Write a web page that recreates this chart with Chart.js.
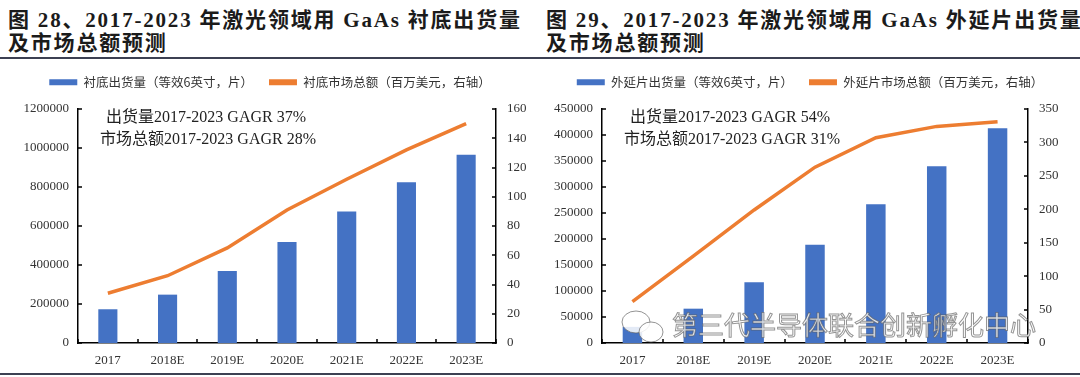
<!DOCTYPE html>
<html>
<head>
<meta charset="utf-8">
<script src="https://cdn.jsdelivr.net/npm/chart.js@4"></script>
<style>
  body { margin: 0; background: #fff; }
  #page { position: relative; width: 1080px; height: 377px; overflow: hidden; background: #fff; }
  .title { position: absolute; top: 9px; font-family: "Liberation Serif", "Noto Sans CJK SC"; font-weight: bold;
           font-size: 21px; line-height: 23px; letter-spacing: 1.8px; color: #1b1b1b; white-space: nowrap; }
  .rule { position: absolute; left: 0; width: 1080px; height: 2px; background: #3c4052; }
  .box { position: absolute; top: 60px; width: 540px; height: 312px; }
</style>
</head>
<body>
<div id="page">
  <div class="title" style="left:8px">图 28、2017-2023 年激光领域用 GaAs 衬底出货量<br>及市场总额预测</div>
  <div class="title" style="left:546px">图 29、2017-2023 年激光领域用 GaAs 外延片出货量<br>及市场总额预测</div>
  <div class="rule" style="top:57px"></div>
  <div class="rule" style="top:373px"></div>
  <div class="box" style="left:0"><canvas id="c1" width="540" height="312"></canvas></div>
  <div class="box" style="left:540px"><canvas id="c2" width="540" height="312"></canvas></div>
</div>
<script>
// 数据
var years = ['2017', '2018E', '2019E', '2020E', '2021E', '2022E', '2023E'];

var substrateLabels = ['衬底出货量（等效6英寸，片）', '衬底市场总额（百万美元，右轴）'];
var substrateVolume = [173000, 248000, 369000, 518000, 675000, 824000, 965000];
var substrateMarket = [34, 46, 65, 91, 112, 132, 150];
var substrateNotes = ['出货量2017-2023 GAGR 37%', '市场总额2017-2023 GAGR 28%'];
var substrateLeftTicks = [0, 1200000, 200000];
var substrateRightTicks = [0, 160, 20];

var epiLabels = ['外延片出货量（等效6英寸，片）', '外延片市场总额（百万美元，右轴）'];
var epiVolume = [31000, 66000, 117000, 189000, 267000, 340000, 413000];
var epiMarket = [62, 130, 199, 263, 307, 324, 331];
var epiNotes = ['出货量2017-2023 GAGR 54%', '市场总额2017-2023 GAGR 31%'];
var epiLeftTicks = [0, 450000, 50000];
var epiRightTicks = [0, 350, 50];

var watermark = '第三代半导体联合创新孵化中心';

var BLUE = '#4472C4';
var ORANGE = '#ED7D31';
var SERIF = '"Liberation Serif", "Noto Sans CJK SC"';

// 刻度线朝内
var insideTicks = {
    id: 'insideTicks',
    afterDatasetsDraw: function (chart) {
        var ctx = chart.ctx, a = chart.chartArea;
        var x = chart.scales.x, y = chart.scales.y, y1 = chart.scales.y1;
        ctx.save();
        ctx.strokeStyle = '#000';
        ctx.lineWidth = 1.5;
        ctx.beginPath();
        y.ticks.forEach(function (t, i) {
            var p = Math.round(y.getPixelForTick(i));
            ctx.moveTo(a.left, p); ctx.lineTo(a.left + 4, p);
        });
        y1.ticks.forEach(function (t, i) {
            var p = Math.round(y1.getPixelForTick(i));
            ctx.moveTo(a.right, p); ctx.lineTo(a.right - 4, p);
        });
        for (var i = 0; i <= years.length; i++) {
            var px = Math.round(x.getPixelForValue(i - 0.5));
            ctx.moveTo(px, a.bottom); ctx.lineTo(px, a.bottom - 4);
        }
        ctx.stroke();
        ctx.restore();
    }
};

// 图内说明文字
var notes = {
    id: 'notes',
    afterDraw: function (chart, args, opts) {
        var ctx = chart.ctx, a = chart.chartArea;
        ctx.save();
        ctx.font = '16px ' + SERIF;
        ctx.fillStyle = '#222';
        ctx.textAlign = 'center';
        ctx.textBaseline = 'middle';
        ctx.fillText(opts.lines[0], a.left + 128, a.top + 9);
        ctx.fillText(opts.lines[1], a.left + 130, a.top + 31);
        if (opts.mark) {
            // 水印
            ctx.font = '26px "Noto Sans CJK SC"';
            ctx.lineWidth = 1;
            ctx.strokeStyle = 'rgba(90,90,90,0.65)';
            ctx.fillStyle = 'rgba(255,255,255,0.85)';
            ctx.fillText(opts.mark, 314, 265);
            ctx.strokeText(opts.mark, 314, 265);
            ctx.beginPath();
            ctx.ellipse(96, 262, 14, 11, 0, 0, Math.PI * 2);
            ctx.fill(); ctx.stroke();
            ctx.beginPath();
            ctx.ellipse(111, 272, 12, 10, 0, 0, Math.PI * 2);
            ctx.fill(); ctx.stroke();
        }
        ctx.restore();
    }
};

// 固定图例高度
var legendHeight = {
    id: 'legendHeight',
    beforeInit: function (chart) {
        var fit = chart.legend.fit;
        chart.legend.fit = function () {
            fit.bind(chart.legend)();
            this.height = 49;
        };
    }
};

function plain(v) { return String(v); }

function makeChart(id, labels, volume, market, leftTicks, rightTicks, noteLines, leftW, rightW, mark) {
    var ctx = document.getElementById(id).getContext('2d');
    return new Chart(ctx, {
        type: 'bar',
        data: {
            labels: years,
            datasets: [{
                label: labels[0],
                data: volume,
                backgroundColor: BLUE,
                barPercentage: 0.32,
                categoryPercentage: 1,
                yAxisID: 'y'
            }, {
                type: 'line',
                label: labels[1],
                data: market,
                borderColor: ORANGE,
                backgroundColor: ORANGE,
                borderWidth: 3.5,
                pointRadius: 0,
                tension: 0,
                yAxisID: 'y1'
            }]
        },
        options: {
            responsive: false,
            animation: false,
            layout: { padding: 0 },
            plugins: {
                legend: {
                    position: 'top',
                    labels: {
                        boxWidth: 28,
                        boxHeight: 6,
                        padding: 16,
                        color: '#333',
                        font: { family: '"Noto Sans CJK SC"', size: 12.5 },
                        generateLabels: function (chart) {
                            var items = Chart.defaults.plugins.legend.labels.generateLabels(chart);
                            items.forEach(function (it) { it.lineWidth = 0; });
                            return items;
                        }
                    }
                },
                tooltip: { enabled: false },
                notes: { lines: noteLines, mark: mark }
            },
            scales: {
                x: {
                    grid: { display: false, drawTicks: false },
                    border: { display: true, color: '#000', width: 1.5 },
                    ticks: { color: '#333', font: { family: SERIF, size: 13 }, padding: 10, maxRotation: 0 },
                    afterFit: function (s) { s.height = 29; }
                },
                y: {
                    position: 'left',
                    min: leftTicks[0], max: leftTicks[1],
                    grid: { display: false, drawTicks: false },
                    border: { display: true, color: '#000', width: 1.5 },
                    ticks: { stepSize: leftTicks[2], callback: plain, color: '#333', font: { family: SERIF, size: 13 }, padding: 9 },
                    afterFit: function (s) { s.width = leftW; }
                },
                y1: {
                    position: 'right',
                    min: rightTicks[0], max: rightTicks[1],
                    grid: { display: false, drawTicks: false },
                    border: { display: true, color: '#000', width: 1.5 },
                    ticks: { stepSize: rightTicks[2], callback: plain, color: '#333', font: { family: SERIF, size: 13 }, padding: 11 },
                    afterFit: function (s) { s.width = rightW; }
                }
            }
        },
        plugins: [legendHeight, insideTicks, notes]
    });
}

makeChart('c1', substrateLabels, substrateVolume, substrateMarket, substrateLeftTicks, substrateRightTicks, substrateNotes, 78, 44, null);
makeChart('c2', epiLabels, epiVolume, epiMarket, epiLeftTicks, epiRightTicks, epiNotes, 62, 52, watermark);
</script>
</body>
</html>
